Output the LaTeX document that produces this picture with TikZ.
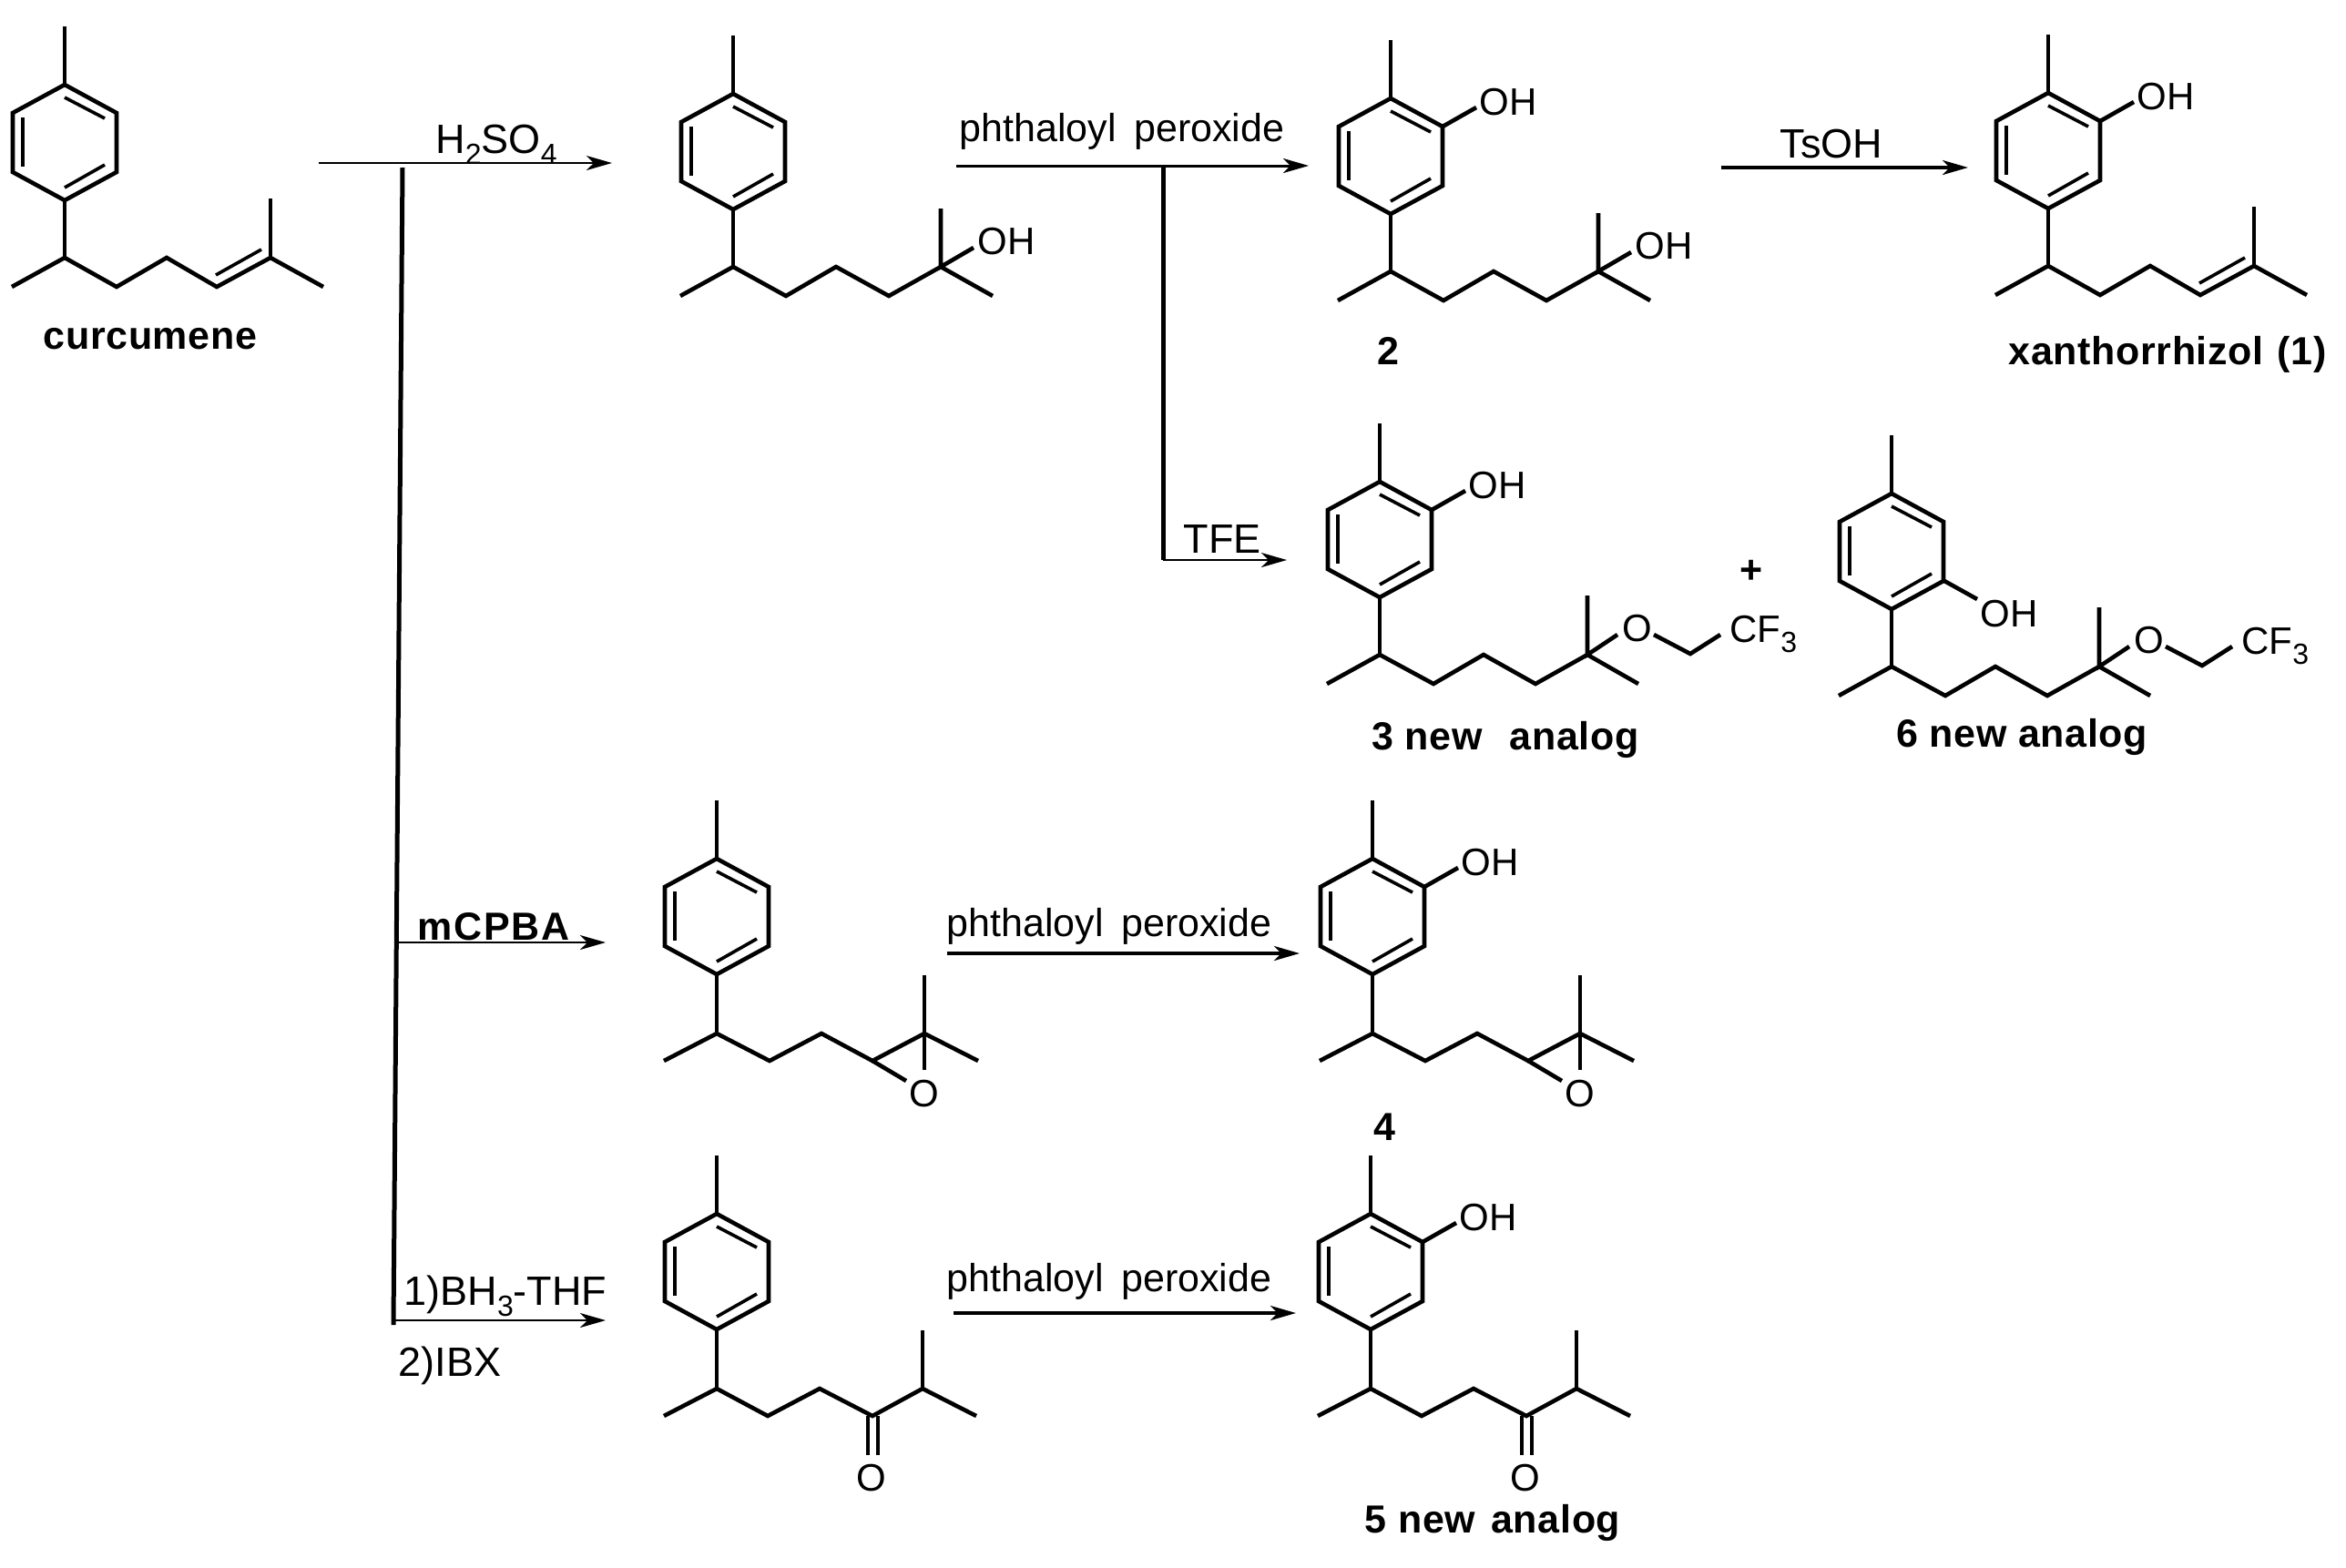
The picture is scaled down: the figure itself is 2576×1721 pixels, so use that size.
\documentclass[tikz,border=0pt]{standalone}
\usepackage{fontspec}
\setmainfont{Liberation Sans}
\usetikzlibrary{arrows.meta}
\newcommand{\lowidx}[1]{\raisebox{-0.28em}{\fontsize{16}{16}\selectfont #1}}
\tikzset{
    bond/.style={line width=2.3pt},
    inner/.style={line width=1.8pt},
    thinarrow/.style={line width=0.8pt,-{Stealth[length=14pt,width=8pt,inset=4pt]}},
    thickarrow/.style={line width=2pt,-{Stealth[length=14pt,width=8pt,inset=4pt]}},
    branch/.style={line width=2.5pt},
    atom/.style={inner sep=0pt,font=\fontsize{21}{24}\selectfont,text height=15pt,text depth=0pt},
    reagent/.style={inner sep=0pt,font=\fontsize{22.5}{24}\selectfont,text height=16pt,text depth=0pt},
    peroxlabel/.style={inner sep=0pt,font=\fontsize{21.5}{24}\selectfont,text height=15.4pt,text depth=0pt},
    title/.style={inner sep=0pt,font=\fontsize{21.5}{24}\selectfont\bfseries\addfontfeature{LetterSpace=1.5},text height=15.4pt,text depth=0pt},
    % ring with its methyl and the stem down to the side chain
    pics/tolyl/.style={code={
        \draw[bond] (0,0) -- (57,31) -- (57,96) -- (0,127) -- (-57,96) -- (-57,31) -- cycle;
        \draw[bond] (0,-64) -- (0,0);
        \draw[bond] (0,127) -- (0,190);
        \draw[inner] (0,14) -- (44,37);
        \draw[inner] (-46,36) -- (-46,90);
        \draw[inner] (0,113) -- (44,88);
    }},
    pics/orthoOH/.style={code={
        \draw[bond] (57,31) -- (94,10);
        \node[atom] (-oh) at (129,3) {OH};
    }},
    pics/metaOH/.style={code={
        \draw[bond] (58,96) -- (94,116);
        \node[atom] (-oh) at (129,131) {OH};
    }},
    pics/enetail/.style={code={
        \draw[bond] (-58,222) -- (0,190) -- (57,222) -- (112,190) -- (167,222) -- (226,190) -- (284,222);
        \draw[bond] (226,125) -- (226,190);
        \draw[inner] (166,209) -- (216,181);
    }},
    pics/alcoholtail/.style={code={
        \draw[bond] (-58,222) -- (0,190) -- (58,222) -- (113,190) -- (171,222) -- (228,190) -- (285,222);
        \draw[bond] (228,126) -- (228,190) -- (264,169);
        \node[atom] (-toh) at (300,161) {OH};
    }},
    pics/ethertail/.style={code={
        \draw[bond] (-58,222) -- (0,190) -- (59,222) -- (114,190) -- (171,222) -- (228,190) -- (284,222);
        \draw[bond] (228,125) -- (228,190) -- (261,168);
        \draw[bond] (301,168) -- (341,189) -- (374,168);
        \node[atom] (-o) at (283,160) {O};
        \node[atom,anchor=west] (-cf) at (384,161) {CF\lowidx{3}};
    }},
    pics/epoxytail/.style={code={
        \draw[bond] (-58,222) -- (0,192) -- (58,222) -- (115,192) -- (171,222) -- (228,192) -- (287,222);
        \draw[bond] (228,128) -- (228,232);
        \draw[bond] (171,222) -- (208,244);
        \node[atom] (-o) at (228,257) {O};
    }},
    pics/ketotail/.style={code={
        \draw[bond] (-58,222) -- (0,192) -- (56,222) -- (113,192) -- (171,222) -- (226,192) -- (285,222);
        \draw[bond] (226,128) -- (226,192);
        \draw[bond] (166,222) -- (166,265);
        \draw[bond] (177,222) -- (177,265);
        \node[atom] (-o) at (170,289) {O};
    }}
}
\begin{document}
\begin{tikzpicture}[x=0.5pt,y=-0.5pt]
    \useasboundingbox (0,0) rectangle (2576,1721);
    % curcumene and the step to the alcohol
    \pic (curc) at (71,93) {tolyl};
    \pic (curc) at (71,93) {enetail};
    \node[title] (curclabel) at (165,368) {curcumene};
    \pic (alc) at (805,103) {tolyl};
    \pic (alc) at (805,103) {alcoholtail};
    % phenols of the first row
    \pic (two) at (1527,108) {tolyl};
    \pic (two) at (1527,108) {orthoOH};
    \pic (two) at (1527,108) {alcoholtail};
    \node[title] (twolabel) at (1524,385) {2};
    \pic (xan) at (2249,102) {tolyl};
    \pic (xan) at (2249,102) {orthoOH};
    \pic (xan) at (2249,102) {enetail};
    \node[title] (xanlabel) at (2380,385) {xanthorrhizol\hspace{0.35em}(1)};
    % the two trifluoroethyl ethers
    \pic (three) at (1515,529) {tolyl};
    \pic (three) at (1515,529) {orthoOH};
    \pic (three) at (1515,529) {ethertail};
    \node[title] (threelabel) at (1653,808) {3 new\hspace{0.7em}analog};
    \node[title] (plus) at (1923,625) {+};
    \pic (six) at (2077,542) {tolyl};
    \pic (six) at (2077,542) {metaOH};
    \pic (six) at (2077,542) {ethertail};
    \node[title] (sixlabel) at (2220,805) {6 new analog};
    % epoxide row
    \pic (epo) at (787,943) {tolyl};
    \pic (epo) at (787,943) {epoxytail};
    \pic (four) at (1507,943) {tolyl};
    \pic (four) at (1507,943) {orthoOH};
    \pic (four) at (1507,943) {epoxytail};
    \node[title] (fourlabel) at (1520,1237) {4};
    % ketone row
    \pic (ket) at (787,1333) {tolyl};
    \pic (ket) at (787,1333) {ketotail};
    \pic (five) at (1505,1333) {tolyl};
    \pic (five) at (1505,1333) {orthoOH};
    \pic (five) at (1505,1333) {ketotail};
    \node[title] (fivelabel) at (1639,1668) {5 new\hspace{0.4em}analog};
    % reagents
    \node[reagent] (acid) at (545,152) {H\lowidx{2}SO\lowidx{4}};
    \node[peroxlabel] (perox) at (1232,140) {phthaloyl\hspace{0.45em}peroxide};
    \node[reagent] (tsoh) at (2011,157) {TsOH};
    \node[reagent] (tfe) at (1342,591) {TFE};
    \node[title,font=\fontsize{21.5}{24}\selectfont\bfseries\addfontfeature{LetterSpace=4}] (mcpba) at (542,1017) {mCPBA};
    \node[peroxlabel] (perox2) at (1218,1013) {phthaloyl\hspace{0.45em}peroxide};
    \node[reagent] (borane) at (555,1417) {1)BH\lowidx{3}-THF};
    \node[reagent] (ibx) at (494,1495) {2)IBX};
    \node[peroxlabel] (perox3) at (1218,1403) {phthaloyl\hspace{0.45em}peroxide};
    % arrows
    \coordinate (mainstart) at (350,179);
    \coordinate (mainend) at (672,179);
    \coordinate (trunktop) at (442,184);
    \coordinate (trunkbottom) at (432,1455);
    \coordinate (epostart) at (437,1035);
    \coordinate (epoend) at (665,1035);
    \coordinate (ketstart) at (432,1450);
    \coordinate (ketend) at (665,1450);
    \coordinate (oxstart) at (1050,182);
    \coordinate (oxend) at (1437,182);
    \coordinate (oxjoin) at (1277,182);
    \coordinate (tfejoin) at (1277,615);
    \coordinate (tfeend) at (1413,615);
    \coordinate (tsstart) at (1890,184);
    \coordinate (tsend) at (2161,184);
    \coordinate (ox2start) at (1040,1047);
    \coordinate (ox2end) at (1427,1047);
    \coordinate (ox3start) at (1047,1442);
    \coordinate (ox3end) at (1423,1442);
    \draw[thinarrow] (mainstart) -- (mainend);
    \draw[branch] (trunktop) -- (trunkbottom);
    \draw[thinarrow] (epostart) -- (epoend);
    \draw[thinarrow] (ketstart) -- (ketend);
    \draw[thickarrow,line width=1.5pt] (oxstart) -- (oxend);
    \draw[branch] (oxjoin) -- (tfejoin);
    \draw[thinarrow] (tfejoin) -- (tfeend);
    \draw[thickarrow] (tsstart) -- (tsend);
    \draw[thickarrow] (ox2start) -- (ox2end);
    \draw[thickarrow] (ox3start) -- (ox3end);
\end{tikzpicture}
\end{document}
